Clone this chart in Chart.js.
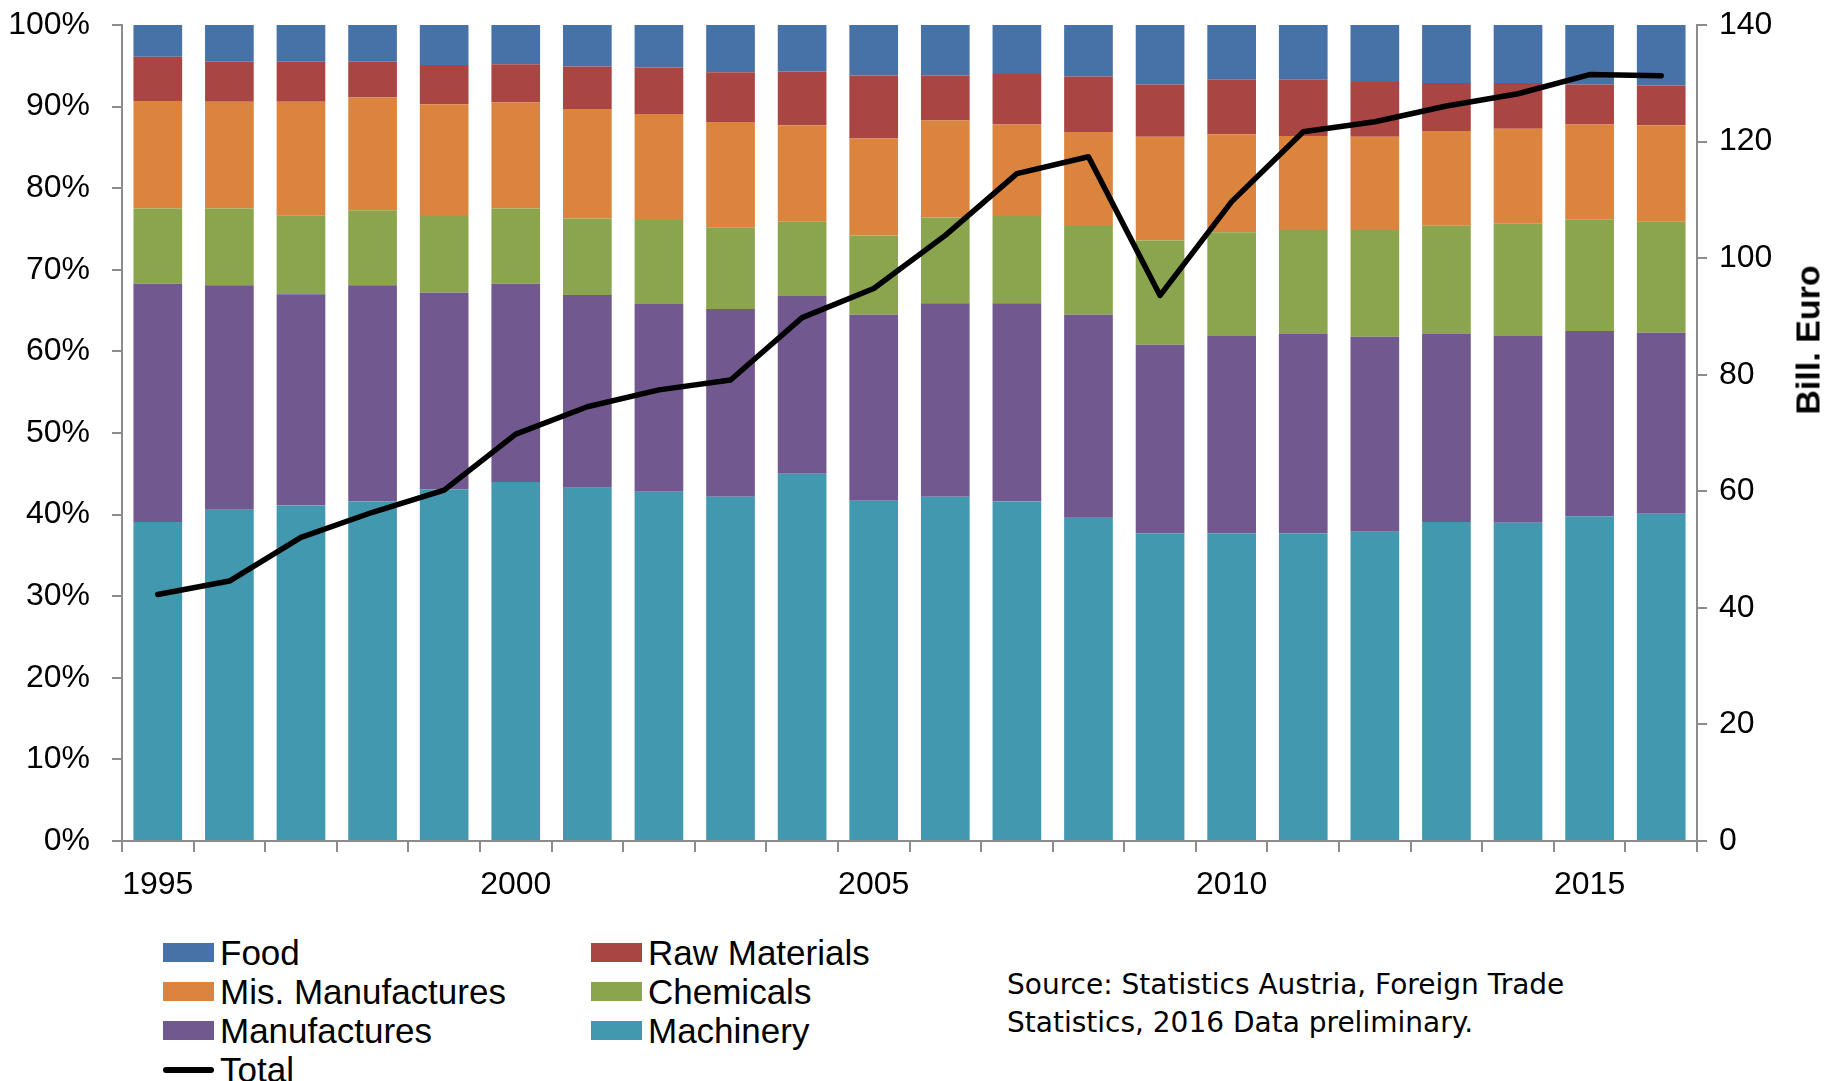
<!DOCTYPE html>
<html>
<head>
<meta charset="utf-8">
<script src="https://cdn.jsdelivr.net/npm/chart.js@4/dist/chart.umd.min.js"></script>
<style>
  html, body { margin: 0; padding: 0; background: #fff; }
  #wrap { position: relative; width: 1835px; height: 1081px; overflow: hidden; }
  #chartBox { position: absolute; left: 0; top: 0; width: 1835px; height: 910px; }
  #axisTitle {
    position: absolute; left: 1808px; top: 340px;
    transform: translate(-50%, -50%) rotate(-90deg);
    font: bold 34px "Liberation Sans", Arial, sans-serif; white-space: nowrap; color: #000;
  }
  #legend {
    position: absolute; left: 163px; top: 933px;
    display: grid; grid-template-columns: 428px auto; grid-auto-rows: 39px;
    font: 35px "Liberation Sans", Arial, sans-serif; color: #000;
  }
  .item { display: flex; align-items: center; white-space: nowrap; }
  .swatch { width: 51px; height: 19px; margin-right: 6px; flex: none; }
  .lineSwatch { width: 51px; height: 6px; border-radius: 3px; margin-right: 6px; flex: none; }
  #source {
    position: absolute; left: 1007px; top: 966px;
    font: 28px "DejaVu Sans", sans-serif; line-height: 38px; color: #000;
  }
</style>
</head>
<body>
<div id="wrap">
  <div id="chartBox"><canvas id="exportChart" width="1835" height="910"></canvas></div>
  <div id="axisTitle">Bill. Euro</div>
  <div id="legend"></div>
  <div id="source">Source: Statistics Austria, Foreign Trade<br>Statistics, 2016 Data preliminary.</div>
</div>
<script>
// Years on the category axis
const years = ["1995", "1996", "1997", "1998", "1999", "2000", "2001", "2002", "2003", "2004", "2005",
  "2006", "2007", "2008", "2009", "2010", "2011", "2012", "2013", "2014", "2015", "2016"];

// Share of exports by product group (percent)
const machinery = [39.1, 40.6, 41.1, 41.6, 43.1, 44.0, 43.3, 42.8, 42.2, 45.0, 41.7,
  42.2, 41.6, 39.7, 37.7, 37.7, 37.7, 37.9, 39.1, 39.0, 39.8, 40.1];
const manufactures = [29.2, 27.5, 25.9, 26.5, 24.1, 24.3, 23.6, 23.0, 23.0, 21.8, 22.8,
  23.7, 24.3, 24.8, 23.1, 24.2, 24.5, 23.9, 23.1, 22.9, 22.7, 22.2];
const chemicals = [9.2, 9.4, 9.7, 9.2, 9.4, 9.2, 9.4, 10.3, 10.0, 9.1, 9.7,
  10.5, 10.7, 11.0, 12.8, 12.7, 12.8, 13.2, 13.2, 13.8, 13.7, 13.6];
const misManufactures = [13.2, 13.1, 13.9, 13.8, 13.7, 13.0, 13.4, 13.0, 12.9, 11.8, 11.9,
  11.9, 11.2, 11.4, 12.7, 12.0, 11.4, 11.3, 11.6, 11.6, 11.6, 11.8];
const rawMaterials = [5.4, 4.9, 4.9, 4.4, 4.8, 4.7, 5.2, 5.7, 6.1, 6.6, 7.7,
  5.5, 6.2, 6.8, 6.4, 6.7, 6.9, 6.7, 5.9, 5.6, 4.9, 4.9];
const food = [3.9, 4.5, 4.5, 4.5, 4.9, 4.8, 5.1, 5.2, 5.8, 5.7, 6.2,
  6.2, 6.0, 6.3, 7.3, 6.7, 6.7, 7.0, 7.1, 7.1, 7.3, 7.4];

// Total exports in billion euro (right axis)
const total = [42.3, 44.6, 52.1, 56.4, 60.2, 69.8, 74.5, 77.4, 79.1, 89.8, 94.8,
  103.9, 114.5, 117.4, 93.6, 109.7, 121.7, 123.4, 126.1, 128.2, 131.5, 131.3];

// Only every fifth year gets a label
const labelledYears = ["1995", "2000", "2005", "2010", "2015"];

// Order of entries in the legend below the chart
const legendOrder = ["Food", "Raw Materials", "Mis. Manufactures", "Chemicals", "Manufactures", "Machinery", "Total"];

const axisGrey = "#8c8c8c";
const axisFont = { family: "'Liberation Sans', Arial, sans-serif", size: 32 };

function barSet(label, data, color) {
  return {
    type: "bar",
    label: label,
    data: data,
    backgroundColor: color,
    borderWidth: 0,
    yAxisID: "y",
    stack: "share",
    order: 1,
    barPercentage: 0.68,
    categoryPercentage: 1
  };
}

// Keeps the plot area fixed: no extra room for half tick labels
function fixVertical(width) {
  return scale => {
    scale.width = width;
    scale.paddingTop = 0;
    scale.paddingBottom = 0;
  };
}

const ctx = document.getElementById("exportChart").getContext("2d");

// Stacked bars are drawn bottom-up, so Machinery comes first
const exportChart = new Chart(ctx, {
  data: {
    labels: years,
    datasets: [
      {
        type: "line",
        label: "Total",
        data: total,
        borderColor: "#000",
        backgroundColor: "#000",
        borderWidth: 5.5,
        borderCapStyle: "round",
        borderJoinStyle: "round",
        pointRadius: 0,
        tension: 0,
        yAxisID: "y1",
        order: 0
      },
      barSet("Machinery", machinery, "#4298af"),
      barSet("Manufactures", manufactures, "#71588f"),
      barSet("Chemicals", chemicals, "#8aa54e"),
      barSet("Mis. Manufactures", misManufactures, "#db843d"),
      barSet("Raw Materials", rawMaterials, "#a94543"),
      barSet("Food", food, "#4672a8")
    ]
  },
  options: {
    responsive: false,
    animation: false,
    devicePixelRatio: 1,
    layout: { padding: { top: 25, left: 0, right: 0, bottom: 0 } },
    plugins: {
      legend: { display: false },
      tooltip: { enabled: false }
    },
    scales: {
      x: {
        stacked: true,
        offset: true,
        grid: { display: true, offset: true, drawOnChartArea: false, drawTicks: true, tickLength: 11, color: axisGrey, lineWidth: 2 },
        border: { display: true, color: axisGrey, width: 2 },
        ticks: {
          autoSkip: false,
          maxRotation: 0,
          padding: 14,
          color: "#000",
          font: axisFont,
          callback: function (value, index) {
            return labelledYears.includes(years[index]) ? years[index] : "";
          }
        },
        afterFit: scale => { scale.height = 910 - 841; }
      },
      y: {
        stacked: true,
        position: "left",
        min: 0,
        max: 100,
        grid: { display: true, drawOnChartArea: false, drawTicks: true, tickLength: 10, color: axisGrey, lineWidth: 2 },
        border: { display: true, color: axisGrey, width: 2 },
        ticks: {
          stepSize: 10,
          padding: 22,
          color: "#000",
          font: axisFont,
          callback: value => value + "%"
        },
        afterFit: fixVertical(122)
      },
      y1: {
        position: "right",
        min: 0,
        max: 140,
        grid: { display: true, drawOnChartArea: false, drawTicks: true, tickLength: 10, color: axisGrey, lineWidth: 2 },
        border: { display: true, color: axisGrey, width: 2 },
        ticks: {
          stepSize: 20,
          padding: 12,
          color: "#000",
          font: axisFont
        },
        afterFit: fixVertical(1835 - 1697)
      }
    }
  }
});

// Builds the two-column legend from the chart's own datasets
function buildLegend(chart) {
  const legend = document.getElementById("legend");
  legendOrder.forEach(name => {
    const ds = chart.data.datasets.find(d => d.label === name);
    const item = document.createElement("div");
    item.className = "item";
    const mark = document.createElement("span");
    if (ds.type === "line") {
      mark.className = "lineSwatch";
      mark.style.background = ds.borderColor;
    } else {
      mark.className = "swatch";
      mark.style.background = ds.backgroundColor;
    }
    const text = document.createElement("span");
    text.textContent = ds.label;
    item.appendChild(mark);
    item.appendChild(text);
    legend.appendChild(item);
  });
}

buildLegend(exportChart);
</script>
</body>
</html>
